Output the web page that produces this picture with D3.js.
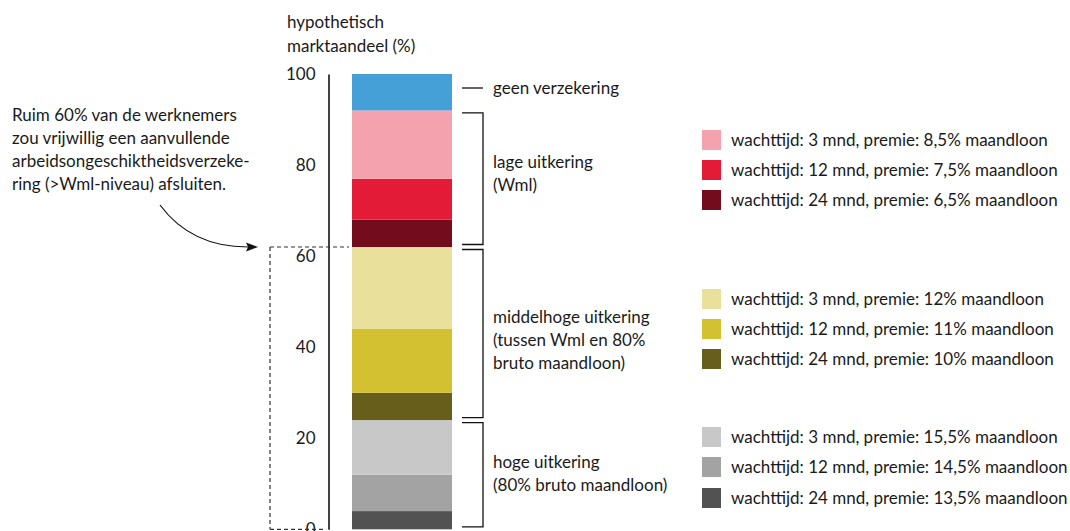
<!DOCTYPE html>
<html>
<head>
<meta charset="utf-8">
<script src="https://cdn.jsdelivr.net/npm/d3@7"></script>
<style>
  html, body { margin: 0; padding: 0; background: #fff; }
  svg { display: block; }
  text { font-family: Lato, "Noto Sans", sans-serif; fill: #1a1a1a; }
</style>
</head>
<body>
<svg id="chart" width="1070" height="531"></svg>
<script>
// Stacked market share, bottom to top
const segmentNames = [
  "hoog 24 mnd", "hoog 12 mnd", "hoog 3 mnd",
  "middelhoog 24 mnd", "middelhoog 12 mnd", "middelhoog 3 mnd",
  "laag 24 mnd", "laag 12 mnd", "laag 3 mnd",
  "geen verzekering"
];
const segmentValues = [4, 8, 12, 6, 14, 18, 6, 9, 15, 8];
const segmentColors = [
  "#525252", "#a3a3a3", "#c8c8c8",
  "#675e1b", "#d4c131", "#e9e09c",
  "#730d1e", "#e31b37", "#f4a3ae",
  "#44a0d6"
];

// Brackets: first and last segment index (inclusive) and label lines
const groupRanges = [[0, 2], [3, 5], [6, 8]];
const groupLabels = [
  ["hoge uitkering", "(80% bruto maandloon)"],
  ["middelhoge uitkering", "(tussen Wml en 80%", "bruto maandloon)"],
  ["lage uitkering", "(Wml)"]
];
const noInsuranceLabel = "geen verzekering";

// Legend rows per group (top to bottom as listed)
const legendLow = [
  "wachttijd: 3 mnd, premie: 8,5% maandloon",
  "wachttijd: 12 mnd, premie: 7,5% maandloon",
  "wachttijd: 24 mnd, premie: 6,5% maandloon"
];
const legendMid = [
  "wachttijd: 3 mnd, premie: 12% maandloon",
  "wachttijd: 12 mnd, premie: 11% maandloon",
  "wachttijd: 24 mnd, premie: 10% maandloon"
];
const legendHigh = [
  "wachttijd: 3 mnd, premie: 15,5% maandloon",
  "wachttijd: 12 mnd, premie: 14,5% maandloon",
  "wachttijd: 24 mnd, premie: 13,5% maandloon"
];

const yTicks = [0, 20, 40, 60, 80, 100];
const axisTitle = ["hypothetisch", "marktaandeel (%)"];
const noteLines = [
  "Ruim 60% van de werknemers",
  "zou vrijwillig een aanvullende",
  "arbeidsongeschiktheidsverzeke-",
  "ring (>Wml-niveau) afsluiten."
];

const svg = d3.select("#chart");
const fontSize = 17;
const baseShift = 6; // baseline offset from a line's visual centre

const y = d3.scaleLinear().domain([0, 100]).range([529.3, 74]);
const axisX = 328.5;
const barX0 = 352, barX1 = 452;

// cumulative stack
const starts = [];
segmentValues.reduce((acc, v, i) => { starts[i] = acc; return acc + v; }, 0);
const stack = segmentValues.map((v, i) => ({ y0: starts[i], y1: starts[i] + v, color: segmentColors[i], name: segmentNames[i] }));

// stacked bar
svg.append("g").selectAll("rect").data(stack).join("rect")
  .attr("x", barX0)
  .attr("width", barX1 - barX0)
  .attr("y", d => y(d.y1))
  .attr("height", d => y(d.y0) - y(d.y1))
  .attr("fill", d => d.color);

// y axis
const axis = svg.append("g")
  .attr("transform", `translate(${axisX},0)`)
  .call(d3.axisLeft(y).tickValues(yTicks).tickSize(0).tickSizeOuter(0).tickPadding(13));
axis.select(".domain").attr("stroke", "#111").attr("stroke-width", 1.6);
axis.selectAll(".tick text")
  .attr("font-size", fontSize)
  .attr("font-family", "Lato, 'Noto Sans', sans-serif")
  .attr("fill", "#1a1a1a");

// axis title
svg.append("text")
  .attr("font-size", fontSize)
  .selectAll("tspan").data(axisTitle).join("tspan")
  .attr("x", 287).attr("y", (d, i) => 22 + baseShift + i * 24)
  .text(d => d);

// dashed guide from the share insured above Wml level
const aboveWml = d3.sum(segmentValues.slice(0, 6));
const dash = svg.append("g")
  .attr("fill", "none").attr("stroke", "#333").attr("stroke-width", 1.2)
  .attr("stroke-dasharray", "4,3");
const guideX = 270;
dash.append("line").attr("x1", guideX).attr("x2", barX0 - 3).attr("y1", y(aboveWml)).attr("y2", y(aboveWml));
dash.append("line").attr("x1", guideX).attr("x2", guideX).attr("y1", y(aboveWml)).attr("y2", y(0));
dash.append("line").attr("x1", guideX).attr("x2", axisX - 3).attr("y1", y(0)).attr("y2", y(0));

// annotation
svg.append("text")
  .attr("font-size", fontSize)
  .selectAll("tspan").data(noteLines).join("tspan")
  .attr("x", 12).attr("y", (d, i) => 115 + baseShift + i * 23)
  .text(d => d);

// curved arrow to the guide line
const ay = y(aboveWml);
svg.append("path")
  .attr("d", `M160,205 C180,232 210,${ay} 248,${ay}`)
  .attr("fill", "none").attr("stroke", "#111").attr("stroke-width", 1.2);
svg.append("path")
  .attr("d", `M258,${ay} L246,${ay - 4.5} L248,${ay} L246,${ay + 4.5} Z`)
  .attr("fill", "#111");

// brackets
const brX0 = 462, brX1 = 483, inset = 2.5;
const br = svg.append("g").attr("fill", "none").attr("stroke", "#111").attr("stroke-width", 1.3);
groupRanges.forEach(([a, b]) => {
  const top = y(stack[b].y1) + inset;
  const bot = y(stack[a].y0) - inset;
  br.append("path").attr("d", `M${brX0},${top} H${brX1} V${bot} H${brX0}`);
});
// "geen verzekering" tick
const blue = stack[stack.length - 1];
const blueY = y(blue.y1) + 14;
br.append("line").attr("x1", brX0).attr("x2", brX1).attr("y1", blueY).attr("y2", blueY);
svg.append("text").attr("x", 493).attr("y", blueY + baseShift)
  .attr("font-size", fontSize).text(noInsuranceLabel);

// group labels beside each bracket (offset from the bracket top)
const labelOffsets = [42, 70, 52];
const lineHeight = 23;
groupRanges.forEach(([a, b], gi) => {
  const firstY = y(stack[b].y1) + labelOffsets[gi] + baseShift;
  svg.append("text").attr("font-size", fontSize)
    .selectAll("tspan").data(groupLabels[gi]).join("tspan")
    .attr("x", 493).attr("y", (d, i) => firstY + i * lineHeight)
    .text(d => d);
});

// legends
const legendSets = [
  { labels: legendLow, colors: [segmentColors[8], segmentColors[7], segmentColors[6]], cy: [140, 170, 200] },
  { labels: legendMid, colors: [segmentColors[5], segmentColors[4], segmentColors[3]], cy: [299, 329, 359] },
  { labels: legendHigh, colors: [segmentColors[2], segmentColors[1], segmentColors[0]], cy: [437, 467, 498] }
];
legendSets.forEach(set => {
  const g = svg.append("g");
  const rows = g.selectAll("g").data(set.labels).join("g")
    .attr("transform", (d, i) => `translate(0,${set.cy[i]})`);
  rows.append("rect").attr("x", 702).attr("y", -10).attr("width", 19).attr("height", 20)
    .attr("fill", (d, i) => set.colors[i]);
  rows.append("text").attr("x", 731).attr("y", baseShift).attr("font-size", fontSize).text(d => d);
});
</script>
</body>
</html>
